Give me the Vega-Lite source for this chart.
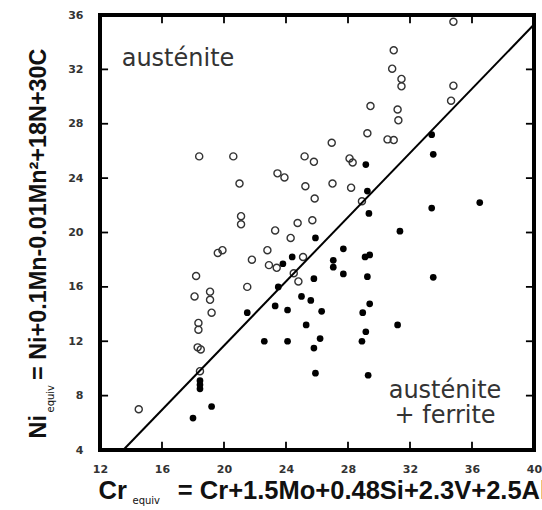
{
  "$schema": "https://vega.github.io/schema/vega-lite/v6.json",
  "autosize": {"type": "none"},
  "padding": {"left": 100, "top": 15, "right": 8, "bottom": 60},
  "width": 434,
  "height": 435,
  "background": "white",
  "config": {
    "view": {"stroke": "black", "strokeWidth": 4},
    "axis": {"domain": false, "grid": false, "ticks": false, "titleColor": "#111", "labelColor": "#333"}
  },
  "datasets": {
    "open": [
      {"x": 14.5, "y": 7.0}, {"x": 18.4, "y": 25.6}, {"x": 20.6, "y": 25.6}, {"x": 21.0, "y": 23.6},
      {"x": 21.1, "y": 21.2}, {"x": 21.1, "y": 20.6}, {"x": 19.9, "y": 18.7}, {"x": 19.6, "y": 18.5},
      {"x": 21.8, "y": 18.0}, {"x": 22.8, "y": 18.7}, {"x": 18.2, "y": 16.8}, {"x": 18.1, "y": 15.3},
      {"x": 19.1, "y": 15.65}, {"x": 19.1, "y": 15.05}, {"x": 19.2, "y": 14.1}, {"x": 18.35, "y": 13.35},
      {"x": 18.35, "y": 12.85}, {"x": 18.3, "y": 11.55}, {"x": 18.5, "y": 11.4}, {"x": 18.45, "y": 9.8},
      {"x": 21.5, "y": 16.0}, {"x": 23.45, "y": 24.35}, {"x": 23.9, "y": 24.05}, {"x": 23.3, "y": 20.15},
      {"x": 24.3, "y": 19.6}, {"x": 24.75, "y": 20.7}, {"x": 22.9, "y": 17.6}, {"x": 23.4, "y": 17.4},
      {"x": 24.5, "y": 17.0}, {"x": 24.8, "y": 16.4}, {"x": 25.1, "y": 18.2}, {"x": 25.2, "y": 25.6},
      {"x": 25.8, "y": 25.2}, {"x": 25.25, "y": 23.4}, {"x": 25.85, "y": 22.5}, {"x": 25.7, "y": 20.9},
      {"x": 26.95, "y": 26.6}, {"x": 27.0, "y": 23.6}, {"x": 28.1, "y": 25.45}, {"x": 28.3, "y": 25.15},
      {"x": 28.2, "y": 23.3}, {"x": 28.9, "y": 22.3}, {"x": 29.25, "y": 27.3}, {"x": 29.45, "y": 29.3},
      {"x": 30.55, "y": 26.85}, {"x": 30.95, "y": 26.8}, {"x": 31.2, "y": 29.05}, {"x": 31.25, "y": 28.25},
      {"x": 30.85, "y": 32.05}, {"x": 30.95, "y": 33.4}, {"x": 31.45, "y": 31.3}, {"x": 31.45, "y": 30.75},
      {"x": 34.8, "y": 30.8}, {"x": 34.65, "y": 29.7}, {"x": 34.8, "y": 35.5}
    ],
    "filled": [
      {"x": 18.0, "y": 6.35}, {"x": 19.2, "y": 7.2}, {"x": 18.45, "y": 9.1}, {"x": 18.45, "y": 8.8},
      {"x": 18.45, "y": 8.5}, {"x": 21.5, "y": 14.1}, {"x": 22.6, "y": 12.0}, {"x": 23.3, "y": 14.6},
      {"x": 23.5, "y": 16.0}, {"x": 24.1, "y": 12.0}, {"x": 24.1, "y": 14.3}, {"x": 23.8, "y": 17.7},
      {"x": 24.4, "y": 18.2}, {"x": 25.0, "y": 15.3}, {"x": 25.6, "y": 15.0}, {"x": 25.3, "y": 13.2},
      {"x": 25.8, "y": 16.6}, {"x": 25.9, "y": 19.6}, {"x": 25.8, "y": 11.5}, {"x": 25.9, "y": 9.65},
      {"x": 26.2, "y": 12.2}, {"x": 26.3, "y": 14.2}, {"x": 27.05, "y": 17.95}, {"x": 27.05, "y": 17.45},
      {"x": 27.7, "y": 18.8}, {"x": 27.7, "y": 16.95}, {"x": 29.15, "y": 25.0}, {"x": 29.25, "y": 23.05},
      {"x": 29.35, "y": 21.4}, {"x": 29.1, "y": 18.2}, {"x": 29.4, "y": 18.35}, {"x": 29.25, "y": 16.75},
      {"x": 29.4, "y": 14.75}, {"x": 28.95, "y": 14.1}, {"x": 29.15, "y": 12.7}, {"x": 28.9, "y": 12.0},
      {"x": 29.3, "y": 9.5}, {"x": 31.35, "y": 20.1}, {"x": 31.2, "y": 13.2}, {"x": 33.4, "y": 27.2},
      {"x": 33.5, "y": 25.75}, {"x": 33.4, "y": 21.8}, {"x": 33.5, "y": 16.7}, {"x": 36.5, "y": 22.2}
    ],
    "boundary": [{"x": 13.5, "y": 4.0}, {"x": 40.0, "y": 35.3}],
    "xticks": [{"v": 16}, {"v": 20}, {"v": 24}, {"v": 28}, {"v": 32}, {"v": 36}],
    "yticks": [{"v": 8}, {"v": 12}, {"v": 16}, {"v": 20}, {"v": 24}, {"v": 28}, {"v": 32}],
    "labelTL": [{"x": 13.4, "y": 32.25, "text": "austénite"}],
    "labelBR": [{"x": 34.26, "y": 7.85, "text": "austénite"}, {"x": 34.26, "y": 6.0, "text": "+ ferrite"}]
  },
  "resolve": {"axis": {"x": "independent", "y": "independent"}},
  "layer": [
    {
      "data": {"name": "open"},
      "mark": {"type": "point", "shape": "circle", "filled": false, "stroke": "#333", "strokeWidth": 1.4, "size": 50, "opacity": 1},
      "encoding": {
        "x": {"field": "x", "type": "quantitative", "scale": {"domain": [12, 40], "nice": false, "zero": false},
          "axis": {"orient": "bottom", "values": [12, 16, 20, 24, 28, 32, 36, 40], "labelPadding": 13, "labelFlush": false,
            "labelFont": "DejaVu Sans", "labelFontWeight": "bold", "labelFontSize": 11,
            "title": "Cr\u2003\u2003= Cr+1.5Mo+0.48Si+2.3V+2.5Al", "titleFont": "Liberation Sans", "titleFontWeight": "bold", "titleFontSize": 25.5,
            "titleX": -2, "titleY": 48, "titleAlign": "left", "titleBaseline": "alphabetic", "titleAngle": 0}},
        "y": {"field": "y", "type": "quantitative", "scale": {"domain": [4, 36], "nice": false, "zero": false},
          "axis": {"orient": "left", "values": [4, 8, 12, 16, 20, 24, 28, 32, 36], "labelPadding": 17,
            "labelFont": "DejaVu Sans", "labelFontWeight": "bold", "labelFontSize": 11,
            "title": "Ni\u2003\u2002= Ni+0.1Mn-0.01Mn²+18N+30C", "titleFont": "Liberation Sans", "titleFontWeight": "bold", "titleFontSize": 23.4,
            "titleX": -55, "titleY": 423, "titleAlign": "left", "titleBaseline": "alphabetic", "titleAngle": 270}}
      }
    },
    {
      "data": {"name": "filled"},
      "mark": {"type": "point", "shape": "circle", "filled": true, "fill": "black", "size": 45, "opacity": 1},
      "encoding": {
        "x": {"field": "x", "type": "quantitative", "axis": null},
        "y": {"field": "y", "type": "quantitative", "axis": null}
      }
    },
    {
      "data": {"name": "boundary"},
      "mark": {"type": "line", "color": "black", "strokeWidth": 2},
      "encoding": {
        "x": {"field": "x", "type": "quantitative",
          "axis": {"orient": "top", "labels": false, "values": [],
            "title": "equiv", "titleFont": "DejaVu Sans", "titleFontWeight": "normal", "titleFontSize": 10,
            "titleX": 32, "titleY": 488, "titleAlign": "left", "titleBaseline": "alphabetic", "titleAngle": 0}},
        "y": {"field": "y", "type": "quantitative",
          "axis": {"orient": "right", "labels": false, "values": [],
            "title": "equiv", "titleFont": "DejaVu Sans", "titleFontWeight": "normal", "titleFontSize": 10,
            "titleX": -481, "titleY": 397, "titleAlign": "left", "titleBaseline": "alphabetic", "titleAngle": 270}}
      }
    },
    {
      "data": {"name": "xticks"},
      "mark": {"type": "rule", "color": "black", "strokeWidth": 1.8},
      "encoding": {
        "x": {"field": "v", "type": "quantitative", "axis": null},
        "y": {"datum": 4, "type": "quantitative", "axis": null},
        "y2": {"datum": 4.6}
      }
    },
    {
      "data": {"name": "xticks"},
      "mark": {"type": "rule", "color": "black", "strokeWidth": 1.8},
      "encoding": {
        "x": {"field": "v", "type": "quantitative", "axis": null},
        "y": {"datum": 35.4, "type": "quantitative", "axis": null},
        "y2": {"datum": 36}
      }
    },
    {
      "data": {"name": "yticks"},
      "mark": {"type": "rule", "color": "black", "strokeWidth": 1.8},
      "encoding": {
        "y": {"field": "v", "type": "quantitative", "axis": null},
        "x": {"datum": 12, "type": "quantitative", "axis": null},
        "x2": {"datum": 12.52}
      }
    },
    {
      "data": {"name": "yticks"},
      "mark": {"type": "rule", "color": "black", "strokeWidth": 1.8},
      "encoding": {
        "y": {"field": "v", "type": "quantitative", "axis": null},
        "x": {"datum": 39.48, "type": "quantitative", "axis": null},
        "x2": {"datum": 40}
      }
    },
    {
      "data": {"name": "labelTL"},
      "mark": {"type": "text", "font": "DejaVu Sans", "fontSize": 24, "align": "left", "baseline": "alphabetic", "color": "#333"},
      "encoding": {
        "x": {"field": "x", "type": "quantitative", "axis": null},
        "y": {"field": "y", "type": "quantitative", "axis": null},
        "text": {"field": "text"}
      }
    },
    {
      "data": {"name": "labelBR"},
      "mark": {"type": "text", "font": "DejaVu Sans", "fontSize": 24, "align": "center", "baseline": "alphabetic", "color": "#333"},
      "encoding": {
        "x": {"field": "x", "type": "quantitative", "axis": null},
        "y": {"field": "y", "type": "quantitative", "axis": null},
        "text": {"field": "text"}
      }
    }
  ]
}
